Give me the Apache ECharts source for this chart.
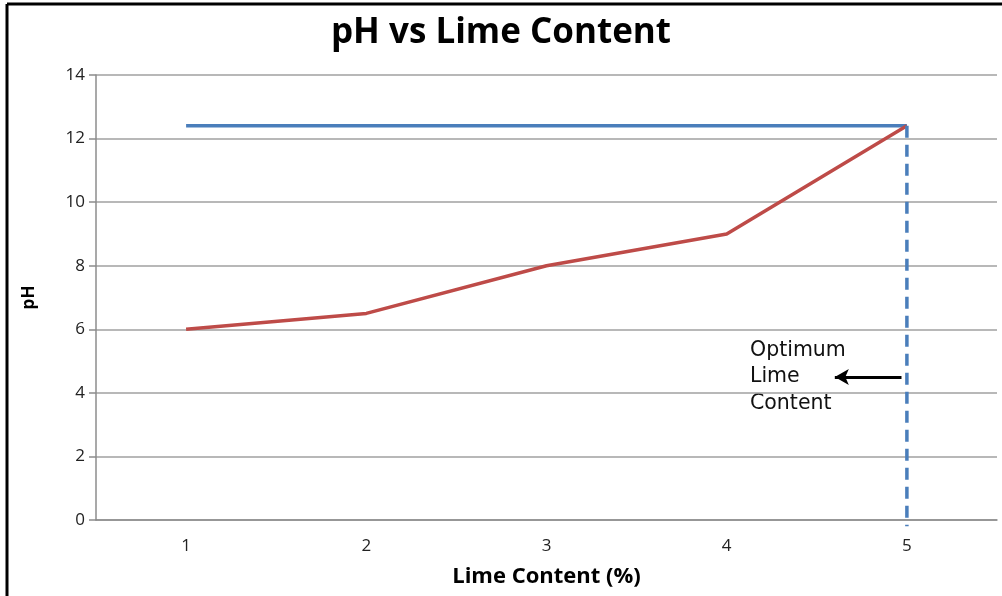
<!DOCTYPE html>
<html>
<head>
<meta charset="UTF-8">
<script src="https://cdn.jsdelivr.net/npm/echarts@6/dist/echarts.min.js"></script>
<style>
  html, body { margin: 0; padding: 0; background: #fff; }
  #main { width: 1002px; height: 596px; }
</style>
</head>
<body>
<div id="main"></div>
<script>
// data
var limeContent = ['1', '2', '3', '4', '5'];
var phValues = [6, 6.5, 8, 9, 12.4];
var optimumPh = [12.4, 12.4, 12.4, 12.4, 12.4];
var optimumLime = 5;
var arrowLevel = 4.5;
var arrowFrom = 4.97, arrowTo = 4.6;

var myChart = echarts.init(document.getElementById('main'));

var option = {
    backgroundColor: '#fff',
    animation: false,
    title: {
        text: 'pH vs Lime Content',
        left: 'center',
        top: 11,
        textStyle: { fontFamily: 'Open Sans', fontSize: 35, fontWeight: 'bold', color: '#000' }
    },
    grid: { left: 96, right: 5, top: 75, bottom: 76, containLabel: false },
    xAxis: [{
        type: 'category',
        data: limeContent,
        boundaryGap: true,
        name: 'Lime Content (%)',
        nameLocation: 'middle',
        nameGap: 46,
        nameTextStyle: { fontFamily: 'Open Sans', fontSize: 22, fontWeight: 'bold', color: '#000' },
        axisLine: { lineStyle: { color: '#8c8c8c', width: 1.5 } },
        axisTick: { show: false },
        axisLabel: { fontFamily: 'Open Sans', fontSize: 17, color: '#222', margin: 18 }
    }, {
        type: 'value',
        min: 0.5,
        max: 5.5,
        show: false
    }],
    yAxis: {
        type: 'value',
        min: 0,
        max: 14,
        interval: 2,
        name: 'pH',
        nameLocation: 'middle',
        nameGap: 58,
        nameTextStyle: { fontFamily: 'Open Sans', fontSize: 17, fontWeight: 'bold', color: '#000' },
        axisLine: { show: true, lineStyle: { color: '#8c8c8c', width: 1.5 } },
        axisTick: { show: true, length: 7, lineStyle: { color: '#8c8c8c', width: 1.5 } },
        axisLabel: { fontFamily: 'Open Sans', fontSize: 17, color: '#222', margin: 11 },
        splitLine: { lineStyle: { color: '#a0a0a0', width: 1.5 } }
    },
    series: [{
        name: 'Optimum',
        type: 'line',
        data: optimumPh,
        symbol: 'none',
        lineStyle: { color: '#4a7ebb', width: 3.5 }
    }, {
        name: 'pH',
        type: 'line',
        data: phValues,
        symbol: 'none',
        lineStyle: { color: '#be4b48', width: 3.5 }
    }, {
        name: 'Optimum lime',
        type: 'line',
        xAxisIndex: 1,
        data: [[optimumLime, optimumPh[4]], [optimumLime, -0.2]],
        symbol: 'none',
        clip: false,
        lineStyle: { color: '#4a7ebb', width: 3.5, type: [12, 7] }
    }, {
        name: 'Arrow',
        type: 'line',
        xAxisIndex: 1,
        data: [],
        markLine: {
            silent: true,
            symbol: ['none', 'arrow'],
            symbolSize: [12, 14],
            label: { show: false },
            lineStyle: { color: '#000', width: 3, type: 'solid' },
            data: [[{ coord: [arrowFrom, arrowLevel] }, { coord: [arrowTo, arrowLevel] }]]
        }
    }],
    graphic: [{
        type: 'text',
        left: 750,
        top: 337,
        style: {
            text: 'Optimum\nLime\nContent',
            fontFamily: 'DejaVu Sans',
            fontSize: 20.5,
            lineHeight: 26.5,
            fill: '#111'
        }
    }, {
        type: 'line',
        shape: { x1: 7, y1: 4, x2: 1002, y2: 4 },
        style: { stroke: '#000', lineWidth: 3 }
    }, {
        type: 'line',
        shape: { x1: 7, y1: 4, x2: 7, y2: 596 },
        style: { stroke: '#000', lineWidth: 3 }
    }]
};

myChart.setOption(option);
</script>
</body>
</html>
